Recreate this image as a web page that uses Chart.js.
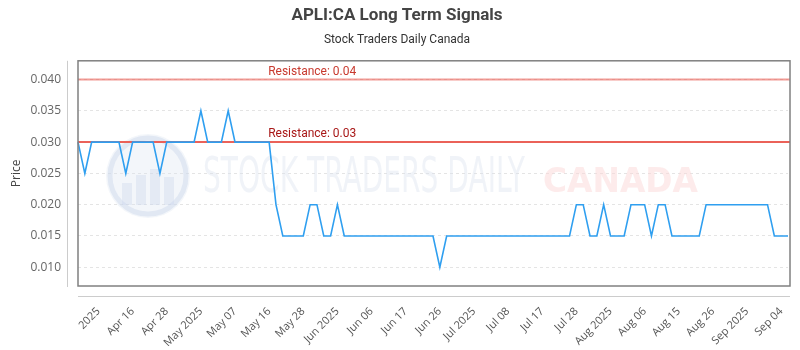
<!DOCTYPE html>
<html>
<head>
<meta charset="utf-8">
<script src="https://cdn.jsdelivr.net/npm/chart.js@4/dist/chart.umd.min.js"></script>
<style>
  html, body { margin: 0; padding: 0; background: #ffffff; }
  #wrap { width: 800px; height: 350px; }
</style>
</head>
<body>
<div id="wrap"><canvas id="c" width="800" height="350"></canvas></div>
<script>
// ---- data ----
const chartTitle = 'APLI:CA Long Term Signals';
const chartSubtitle = 'Stock Traders Daily Canada';
const priceValues = [
  0.030,0.025,0.030,0.030,0.030,0.030,0.030,0.025,0.030,0.030,
  0.030,0.030,0.025,0.030,0.030,0.030,0.030,0.030,0.035,0.030,
  0.030,0.030,0.035,0.030,0.030,0.030,0.030,0.030,0.030,0.020,
  0.015,0.015,0.015,0.015,0.020,0.020,0.015,0.015,0.020,0.015,
  0.015,0.015,0.015,0.015,0.015,0.015,0.015,0.015,0.015,0.015,
  0.015,0.015,0.015,0.010,0.015,0.015,0.015,0.015,0.015,0.015,
  0.015,0.015,0.015,0.015,0.015,0.015,0.015,0.015,0.015,0.015,
  0.015,0.015,0.015,0.020,0.020,0.015,0.015,0.020,0.015,0.015,
  0.015,0.020,0.020,0.020,0.015,0.020,0.020,0.015,0.015,0.015,
  0.015,0.015,0.020,0.020,0.020,0.020,0.020,0.020,0.020,0.020,
  0.020,0.020,0.015,0.015,0.015
];
const xTickLabels = ['2025','Apr 16','Apr 28','May 2025','May 07','May 16','May 28','Jun 2025',
  'Jun 06','Jun 17','Jun 26','Jul 2025','Jul 08','Jul 17','Jul 28','Aug 2025','Aug 06',
  'Aug 15','Aug 26','Sep 2025','Sep 04'];
const xTickFirstIndex = 3;
const xTickEvery = 5;
const yTickValues = [0.010, 0.015, 0.020, 0.025, 0.030, 0.035, 0.040];
const yMin = 0.007, yMax = 0.043;
const resistanceLevels = [0.04, 0.03];
const resistanceLabels = ['Resistance: 0.04', 'Resistance: 0.03'];
const resistanceLabelIndex = 28;

// categories: one per data point (index based trading sessions)
const categories = priceValues.map((_, i) => 'Session ' + (i + 1));
const tickLabelAt = {};
xTickLabels.forEach((t, k) => { tickLabelAt[xTickFirstIndex + k * xTickEvery] = t; });

const deco = {
  id: 'deco',
  beforeDatasetsDraw(chart) {
    const ctx = chart.ctx, a = chart.chartArea;
    const ys = chart.scales.y;
    ctx.save();
    ctx.beginPath(); ctx.rect(a.left, a.top, a.right - a.left, a.bottom - a.top); ctx.clip();
    // watermark logo
    ctx.fillStyle = 'rgba(220,228,242,0.35)';
    ctx.beginPath(); ctx.arc(148, 176, 42, 0, Math.PI * 2); ctx.fill();
    ctx.strokeStyle = 'rgba(205,215,235,0.45)'; ctx.lineWidth = 5;
    ctx.beginPath(); ctx.arc(148, 176, 38, 0, Math.PI * 2); ctx.stroke();
    ctx.fillStyle = 'rgba(200,212,235,0.35)';
    [[122,10,22],[136,10,30],[150,10,36],[164,10,28]].forEach(b => ctx.fillRect(b[0], 205 - b[2], b[1], b[2]));
    // watermark text
    ctx.textBaseline = 'alphabetic';
    ctx.font = '50px "DejaVu Sans"';
    let t1 = 'STOCK TRADERS DAILY';
    let w1 = ctx.measureText(t1).width;
    ctx.save(); ctx.translate(203, 192); ctx.scale(322 / w1, 1);
    ctx.fillStyle = 'rgba(218,225,238,0.4)'; ctx.fillText(t1, 0, 0); ctx.restore();
    ctx.font = 'bold 34px "DejaVu Sans"';
    let t2 = 'CANADA';
    let w2 = ctx.measureText(t2).width;
    ctx.save(); ctx.translate(543, 192); ctx.scale(155 / w2, 1);
    ctx.fillStyle = 'rgba(252,215,215,0.5)'; ctx.fillText(t2, 0, 0); ctx.restore();
    ctx.restore();
    // resistance lines
    ctx.save();
    const cols = ['rgba(234,90,80,0.6)', 'rgba(234,90,80,0.95)'];
    resistanceLevels.forEach((r, k) => {
      const y = ys.getPixelForValue(r);
      ctx.strokeStyle = cols[k]; ctx.lineWidth = 2;
      ctx.beginPath(); ctx.moveTo(a.left, y); ctx.lineTo(a.right + 2, y); ctx.stroke();
    });
    ctx.restore();
  },
  afterDraw(chart) {
    const ctx = chart.ctx, a = chart.chartArea;
    const ys = chart.scales.y, xs = chart.scales.x;
    ctx.save();
    // plot box
    ctx.strokeStyle = '#808080'; ctx.lineWidth = 1.5;
    ctx.strokeRect(a.left, a.top, a.right - a.left + 2, a.bottom - a.top);
    // offset axis lines
    ctx.strokeStyle = '#cccccc'; ctx.lineWidth = 1;
    ctx.beginPath(); ctx.moveTo(a.left - 10.5, a.top); ctx.lineTo(a.left - 10.5, a.bottom + 1); ctx.stroke();
    ctx.beginPath(); ctx.moveTo(a.left, a.bottom + 10.5); ctx.lineTo(a.right + 2, a.bottom + 10.5); ctx.stroke();
    // resistance labels
    const lcols = ['#c8392e', '#a81818'];
    ctx.font = '12px Roboto';
    ctx.textBaseline = 'bottom'; ctx.textAlign = 'left';
    resistanceLevels.forEach((r, k) => {
      ctx.fillStyle = lcols[k];
      ctx.fillText(resistanceLabels[k], xs.getPixelForValue(resistanceLabelIndex) - 1, ys.getPixelForValue(r) - 2);
    });
    ctx.restore();
  }
};

new Chart(document.getElementById('c'), {
  type: 'line',
  data: {
    labels: categories,
    datasets: [{
      label: 'Price',
      data: priceValues,
      borderColor: '#2f9ff0',
      borderWidth: 1.6,
      pointRadius: 0,
      pointHoverRadius: 3,
      tension: 0,
      fill: false
    }]
  },
  options: {
    responsive: false,
    animation: false,
    devicePixelRatio: 1,
    layout: { padding: { left: 6, right: 12, top: 0, bottom: 4 } },
    plugins: {
      legend: { display: false },
      title: { display: true, text: chartTitle, color: '#444', font: { family: 'Roboto', size: 17, weight: 'bold' }, padding: { top: 6, bottom: 6 } },
      subtitle: { display: true, text: chartSubtitle, color: '#333', font: { family: 'Roboto', size: 12 }, padding: { top: 0, bottom: 14 } }
    },
    scales: {
      x: {
        type: 'category',
        offset: false,
        grid: { display: false, drawTicks: false },
        border: { display: false },
        afterFit: (s) => { s.paddingLeft = 0; s.paddingRight = 0; s.height = 60; },
        ticks: {
          autoSkip: false, maxRotation: 45, minRotation: 45, padding: 19,
          color: '#555', font: { family: 'Open Sans', size: 11 },
          callback: (v, i) => (tickLabelAt[i] !== undefined ? tickLabelAt[i] : '')
        }
      },
      y: {
        min: yMin, max: yMax,
        afterBuildTicks: (s) => { s.ticks = yTickValues.map(v => ({ value: v })); },
        afterFit: (s) => { s.width = 72; },
        grid: { color: '#e4e4e4', drawTicks: false },
        border: { display: false, dash: [3, 3] },
        ticks: { padding: 17, color: '#666', font: { family: 'Open Sans', size: 12 }, callback: (v) => Number(v).toFixed(3) },
        title: { display: true, text: 'Price', color: '#444', font: { family: 'Open Sans', size: 12 }, padding: { top: 3, bottom: 4 } }
      }
    }
  },
  plugins: [deco]
});
</script>
</body>
</html>
